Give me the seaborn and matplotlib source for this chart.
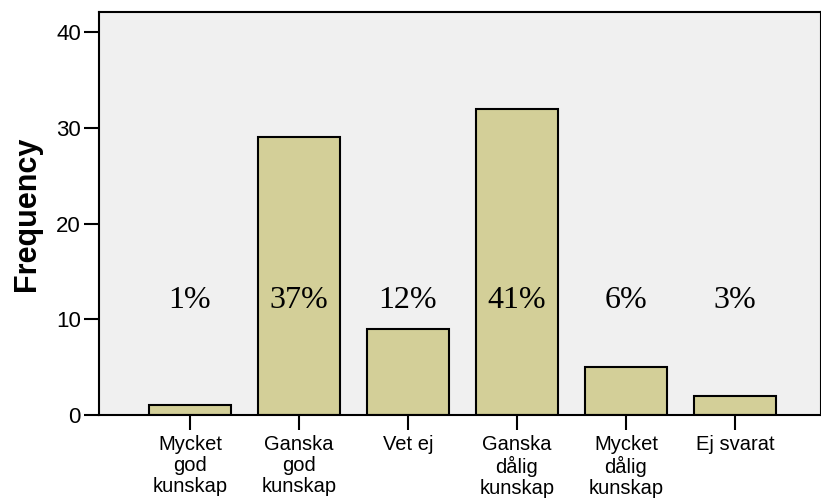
import matplotlib
matplotlib.use("Agg")
import matplotlib.pyplot as plt
import seaborn as sns
import pandas as pd

categories = ["Mycket\ngod\nkunskap", "Ganska\ngod\nkunskap", "Vet ej",
              "Ganska\ndålig\nkunskap", "Mycket\ndålig\nkunskap", "Ej svarat"]
frequency = [1, 29, 9, 32, 5, 2]
percent_labels = ["1%", "37%", "12%", "41%", "6%", "3%"]
label_level = 12

df = pd.DataFrame({"category": categories, "frequency": frequency})

sns.set_style("ticks", {"text.color": "black", "axes.labelcolor": "black",
                        "xtick.color": "black", "ytick.color": "black"})
plt.rcParams['font.family'] = ['Liberation Sans', 'DejaVu Sans']

fig = plt.figure(figsize=(8.21, 5.04), dpi=100)
ax = fig.add_axes([0.1206, 0.1766, 0.8794, 0.7994])
ax.set_facecolor("#f0f0f0")

sns.barplot(data=df, x="category", y="frequency", color="#d3cf98",
            saturation=1, width=0.75, edgecolor="black", linewidth=1.5, ax=ax)

for i, txt in enumerate(percent_labels):
    ax.text(i, label_level, txt, ha="center", va="center", fontsize=23,
            color="black", family=['Liberation Serif', 'DejaVu Serif'])

ax.set_ylim(0, 42.1)
ax.set_xlim(-0.835, 5.79)
ax.set_yticks([0, 10, 20, 30, 40])
ax.set_xlabel("")
ax.set_ylabel("Frequency", fontsize=22, fontweight="bold", labelpad=10)
ax.tick_params(axis="both", direction="out", length=11, width=1.5, labelsize=14.5,
               colors="black")
ax.tick_params(axis="y", labelsize=16, pad=2)
for lbl in ax.get_xticklabels():
    lbl.set_linespacing(1.12)
for s in ax.spines.values():
    s.set_color("black")
    s.set_linewidth(1.5)

fig.savefig("out.png", dpi=100)
